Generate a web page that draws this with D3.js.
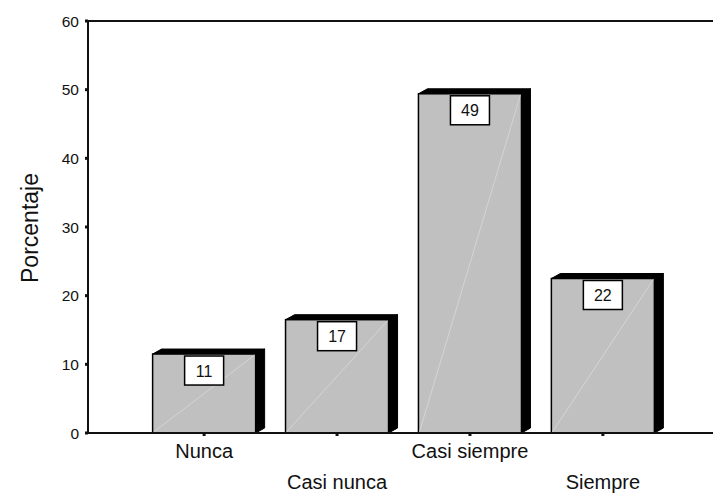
<!DOCTYPE html>
<html><head><meta charset="utf-8">
<script src="https://cdn.jsdelivr.net/npm/d3@7"></script>
<style>body{margin:0;background:#fff}svg{display:block;font-family:Arial,"Liberation Sans",sans-serif}</style>
</head><body><svg id="c" width="713" height="495"></svg>
<script>
const categories = ["Nunca","Casi nunca","Casi siempre","Siempre"];
const values = [11.5, 16.5, 49.4, 22.5];
const labels = ["11","17","49","22"];
const yTicks = [0,10,20,30,40,50,60];

const svg = d3.select("#c");
const y = d3.scaleLinear().domain([0,60]).range([433,21]);
const x = d3.scaleBand().domain(categories).range([138,669]).paddingInner(0.225).paddingOuter(0.11);
const dx = 9, dy = -5;

svg.append("line").attr("x1",88).attr("x2",713).attr("y1",y(60)).attr("y2",y(60)).attr("stroke","#111").attr("stroke-width",2);

const g = svg.append("g");
categories.forEach((c,i)=>{
  const x0 = x(c), w = x.bandwidth(), yt = y(values[i]), yb = y(0);
  g.append("path").attr("d",`M${x0+w},${yt} L${x0+w+dx},${yt+dy} L${x0+w+dx},${yb+dy} L${x0+w},${yb} Z`).attr("fill","#000").attr("stroke","#000");
  g.append("path").attr("d",`M${x0},${yt} L${x0+dx},${yt+dy} L${x0+w+dx},${yt+dy} L${x0+w},${yt} Z`).attr("fill","#000").attr("stroke","#000");
  g.append("rect").attr("x",x0).attr("y",yt).attr("width",w).attr("height",yb-yt).attr("fill","#c0c0c0").attr("stroke","#000").attr("stroke-width",1.5);
  g.append("line").attr("x1",x0+1).attr("y1",yb-1).attr("x2",x0+w-1).attr("y2",yt+1).attr("stroke","#dcdcdc").attr("stroke-width",0.7);
  const cx = x0 + w/2;
  g.append("rect").attr("x",cx-19.5).attr("y",yt+2).attr("width",39).attr("height",29).attr("fill","#fff").attr("stroke","#000").attr("stroke-width",1.5);
  g.append("text").attr("x",cx).attr("y",yt+22.5).attr("text-anchor","middle").attr("font-size",16).attr("fill","#111").text(labels[i]);
});

svg.append("line").attr("x1",88).attr("x2",88).attr("y1",y(60)).attr("y2",y(0)).attr("stroke","#111").attr("stroke-width",2);
yTicks.forEach(t=>{
  svg.append("rect").attr("x",85).attr("y",y(t)-1.5).attr("width",3).attr("height",3).attr("fill","#111");
  svg.append("text").attr("x",79).attr("y",y(t)+5.5).attr("text-anchor","end").attr("font-size",15.5).attr("fill","#111").text(t);
});
svg.append("line").attr("x1",88).attr("x2",713).attr("y1",y(0)).attr("y2",y(0)).attr("stroke","#111").attr("stroke-width",2);
categories.forEach((c,i)=>{
  const cx = x(c)+x.bandwidth()/2;
  svg.append("rect").attr("x",cx-1.5).attr("y",y(0)).attr("width",3).attr("height",3).attr("fill","#111");
  svg.append("text").attr("x",cx).attr("y",i%2===0?458:489).attr("text-anchor","middle").attr("font-size",20).attr("fill","#111").text(c);
});
svg.append("text").attr("transform","translate(38,228) rotate(-90)").attr("text-anchor","middle").attr("font-size",23).attr("fill","#111").text("Porcentaje");
</script></body></html>
